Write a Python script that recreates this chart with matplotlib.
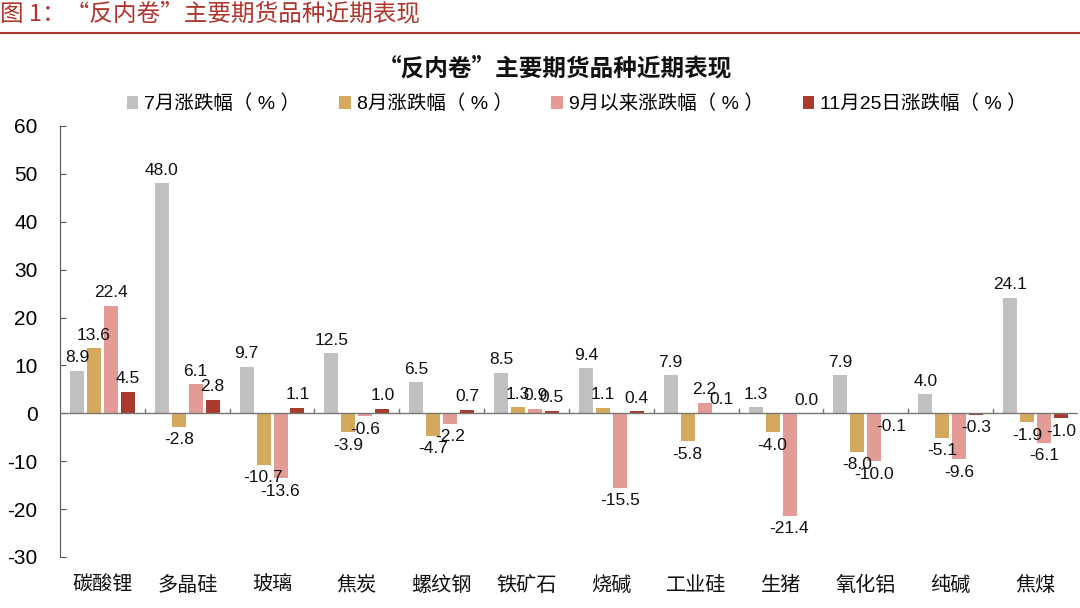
import numpy as np
import matplotlib
matplotlib.use('agg')
import matplotlib.pyplot as plt
from matplotlib.patches import Patch
from matplotlib.lines import Line2D

plt.rcParams['font.family'] = ['Liberation Sans', 'Noto Sans CJK SC', 'DejaVu Sans']
plt.rcParams['axes.unicode_minus'] = False
cjk = ['Noto Sans CJK SC', 'Liberation Sans']

categories = ["碳酸锂", "多晶硅", "玻璃", "焦炭", "螺纹钢", "铁矿石",
              "烧碱", "工业硅", "生猪", "氧化铝", "纯碱", "焦煤"]
series_names = ["7月涨跌幅（ % ）", "8月涨跌幅（ % ）", "9月以来涨跌幅（ % ）", "11月25日涨跌幅（ % ）"]
jul = [8.9, 48.0, 9.7, 12.5, 6.5, 8.5, 9.4, 7.9, 1.3, 7.9, 4.0, 24.1]
aug = [13.6, -2.8, -10.7, -3.9, -4.7, 1.3, 1.1, -5.8, -4.0, -8.0, -5.1, -1.9]
since_sep = [22.4, 6.1, -13.6, -0.6, -2.2, 0.9, -15.5, 2.2, -21.4, -10.0, -9.6, -6.1]
nov25 = [4.5, 2.8, 1.1, 1.0, 0.7, 0.5, 0.4, 0.1, 0.0, -0.1, -0.3, -1.0]
colors = ["#C0C0C0", "#D4A95E", "#E29C95", "#A83A2E"]

series = [jul, aug, since_sep, nov25]

fig = plt.figure(figsize=(10.8, 6.08), dpi=100)
ax = fig.add_axes([0.0555, 0.0839, 0.9426, 0.7089])

x = np.arange(len(categories))
width = 0.165
step = 0.2
for i, (vals, c) in enumerate(zip(series, colors)):
    pos = x + (i - 1.5) * step
    ax.bar(pos, vals, width=width, color=c, zorder=2)
    for px, v in zip(pos, vals):
        ax.annotate(f"{v:.1f}", (px, v), xytext=(0, 4 if v >= 0 else -4),
                    textcoords='offset points', ha='center',
                    va='bottom' if v >= 0 else 'top', fontsize=12.5, color='#111111')

ax.set_xlim(-0.5, len(categories) - 0.5)
ax.set_ylim(-30, 60)
ax.set_yticks(range(-30, 61, 10))
ax.tick_params(axis='y', direction='in', length=4, labelsize=15, color='#555555', pad=16)
for s in ['top', 'right', 'bottom']:
    ax.spines[s].set_visible(False)
ax.spines['left'].set_color('#555555')
ax.axhline(0, color='#777777', lw=1, zorder=3)

ax.set_xticks([])
# separator ticks on the zero line
for b in np.arange(0.5, len(categories) - 0.5, 1.0):
    ax.plot([b, b], [0, 1.0], color='#777777', lw=1, zorder=3)
for xi, name in zip(x, categories):
    ax.text(xi, -0.065, name, transform=ax.get_xaxis_transform(), ha='center', va='center',
            fontsize=14.5, color='#111111', family=cjk)

fig.text(0.0, 0.977, "图 1：“反内卷”主要期货品种近期表现", fontsize=17, color='#B0352C',
         ha='left', va='center', family=cjk)
fig.add_artist(Line2D([0, 1], [0.946, 0.946], color='#B0352C', lw=1.5, transform=fig.transFigure))
fig.text(0.514, 0.888, "“反内卷”主要期货品种近期表现", fontsize=17, fontweight='bold',
         ha='center', va='center', color='#111111', family=cjk)

handles = [Patch(facecolor=c, edgecolor='none') for c in colors]
fig.legend(handles, series_names, loc='center', bbox_to_anchor=(0.534, 0.829), ncol=4,
           frameon=False, fontsize=14, handlelength=0.6, handleheight=0.6,
           handletextpad=0.3, columnspacing=2.0)

fig.savefig("out.png", dpi=100)
